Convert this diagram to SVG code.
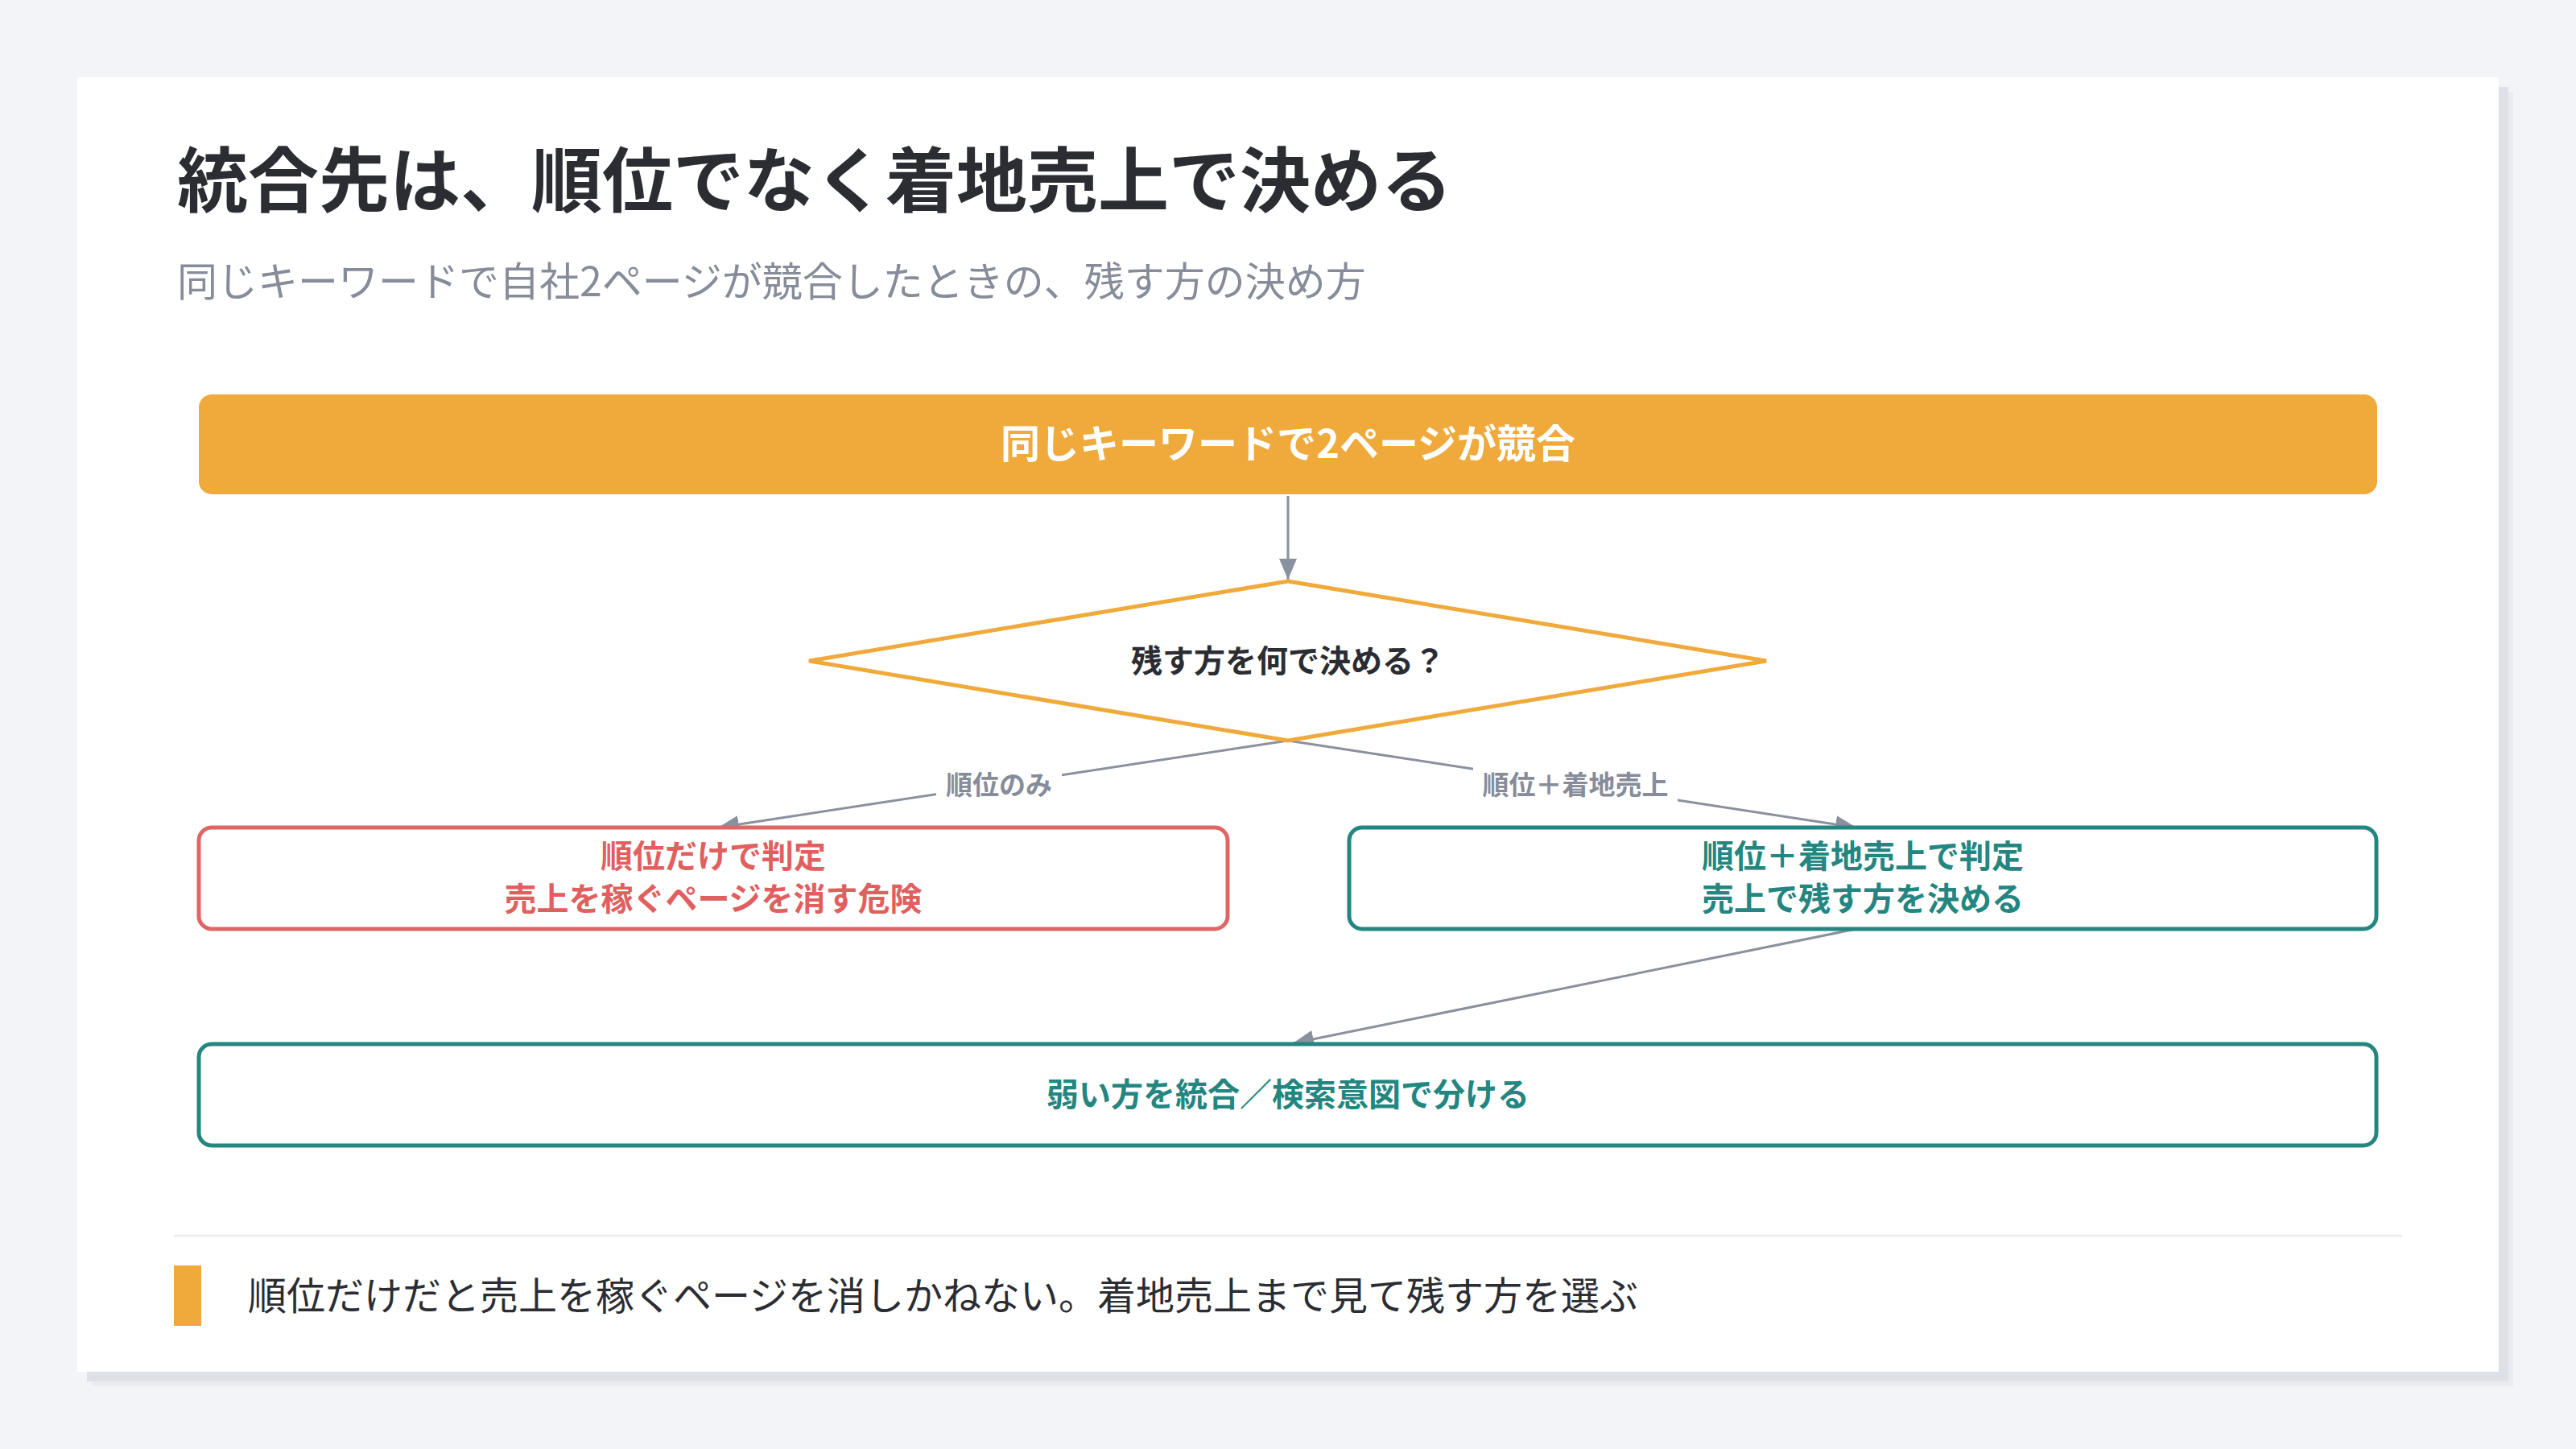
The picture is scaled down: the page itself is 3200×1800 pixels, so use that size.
<svg xmlns="http://www.w3.org/2000/svg" width="3200" height="1800" viewBox="0 0 3200 1800">
<defs>
<marker id="arr" markerUnits="userSpaceOnUse" markerWidth="26" markerHeight="22" refX="26" refY="11" orient="auto">
<path d="M0,0 L26,11 L0,22 z" fill="#8a919e"/>
</marker>
<style>
text{font-family:"Noto Sans CJK JP","Noto Sans",sans-serif;}
.title{font-size:88px;font-weight:700;fill:#2b2d33;}
.sub{font-size:50px;font-weight:400;fill:#868c99;}
.conn{stroke:#8a919e;stroke-width:3;fill:none;}
.lbl{font-size:33px;font-weight:700;fill:#868c99;text-anchor:middle;}
.nt{font-size:40px;font-weight:700;text-anchor:middle;}
.red{fill:#e05f5f;}
.teal{fill:#238680;}
.foot{font-size:48px;font-weight:400;fill:#2b2d33;}
</style>
</defs>
<rect x="0" y="0" width="3200" height="1800" fill="#f3f4f8"/>
<rect x="114" y="114" width="3008" height="1608" fill="#e9ebf0"/>
<rect x="108" y="108" width="3008" height="1608" fill="#dde0e6"/>
<rect x="96" y="96" width="3008" height="1608" fill="#ffffff"/>
<text class="title" x="220" y="256">統合先は、順位でなく着地売上で決める</text>
<text class="sub" x="220" y="368">同じキーワードで自社2ページが競合したときの、残す方の決め方</text>
<g id="connectors">
<line class="conn" x1="1600" y1="616" x2="1600" y2="720" marker-end="url(#arr)"/>
<line class="conn" x1="1600" y1="920" x2="892" y2="1028" marker-end="url(#arr)"/>
<line class="conn" x1="1600" y1="920" x2="2306" y2="1028" marker-end="url(#arr)"/>
<line class="conn" x1="2306" y1="1154" x2="1606" y2="1296" marker-end="url(#arr)"/>
<rect x="1163" y="952" width="156" height="46" fill="#ffffff"/>
<text class="lbl" x="1241" y="987">順位のみ</text>
<rect x="1830" y="952" width="254" height="46" fill="#ffffff"/>
<text class="lbl" x="1957" y="987">順位＋着地売上</text>
</g>
<g id="start">
<rect x="247" y="490" width="2706" height="124" rx="16" fill="#f0a93b"/>
<text class="nt" x="1600" y="569" style="font-size:49px;fill:#ffffff">同じキーワードで2ページが競合</text>
</g>
<g id="decision">
<polygon points="1600,722 2194,821 1600,920 1005,821" fill="#ffffff" stroke="#f0a93b" stroke-width="5"/>
<text class="nt" x="1600" y="835" style="font-size:39px;fill:#2b2d33">残す方を何で決める？</text>
</g>
<g id="rank-only">
<rect x="247" y="1028" width="1278" height="126" rx="16" fill="#ffffff" stroke="#e06565" stroke-width="5"/>
<text class="nt red" x="886" y="1078">順位だけで判定</text>
<text class="nt red" x="886" y="1131">売上を稼ぐページを消す危険</text>
</g>
<g id="rank-sales">
<rect x="1676" y="1028" width="1276" height="126" rx="16" fill="#ffffff" stroke="#238680" stroke-width="5"/>
<text class="nt teal" x="2314" y="1078">順位＋着地売上で判定</text>
<text class="nt teal" x="2314" y="1131">売上で残す方を決める</text>
</g>
<g id="result">
<rect x="247" y="1297" width="2705" height="126" rx="16" fill="#ffffff" stroke="#238680" stroke-width="5"/>
<text class="nt teal" x="1600" y="1374">弱い方を統合／検索意図で分ける</text>
</g>
<line x1="216" y1="1535" x2="2984" y2="1535" stroke="#eceef2" stroke-width="3"/>
<rect x="216" y="1572" width="34" height="75" fill="#f0a93b"/>
<text class="foot" x="308" y="1627">順位だけだと売上を稼ぐページを消しかねない。着地売上まで見て残す方を選ぶ</text>
</svg>
